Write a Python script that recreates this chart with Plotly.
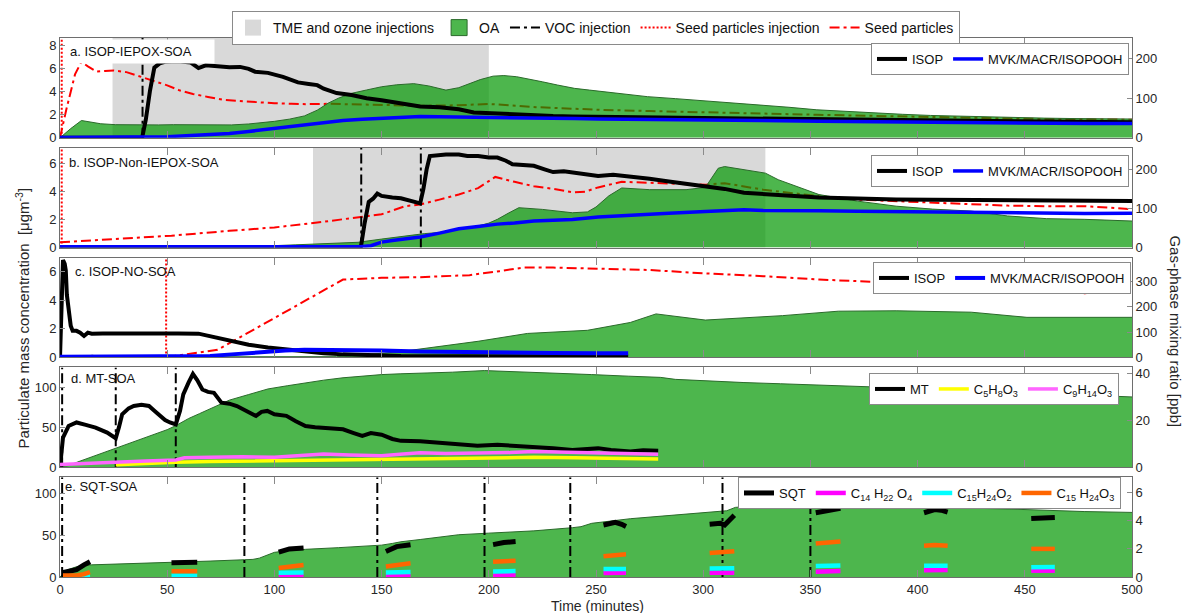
import plotly.graph_objects as go

# ---------------- data (time in minutes) ----------------
x_ticks = [0, 50, 100, 150, 200, 250, 300, 350, 400, 450, 500]

# a. ISOP-IEPOX-SOA
a_tme = [24.5, 200]
a_voc = [38.5]
a_seed_inj = [0.8]
a_seed_t = [0, 3, 7, 10, 13, 17, 21, 25, 31, 38, 44, 50, 56, 62, 69, 76, 83, 90, 100, 108,
            115, 125, 137, 150, 168, 185, 200, 222, 252, 275, 300, 326, 353, 380, 406, 432, 459, 480, 500]
a_seed = [0, 2.5, 5.5, 6.6, 6.2, 5.75, 5.8, 5.85, 5.7, 5.3, 4.95, 4.55, 4.1, 3.8, 3.55, 3.3, 3.2, 3.1, 3.0, 2.95,
          2.92, 2.95, 2.9, 2.86, 2.78, 2.82, 2.94, 2.66, 2.43, 2.32, 2.2, 2.1, 2.0, 1.9, 1.8, 1.72, 1.63, 1.6, 1.57]
a_oa_t = [0, 5, 10, 14, 19, 26, 33, 39, 46, 53, 60, 66, 72, 80, 88, 95, 100, 107, 114, 120,
          125, 130, 136, 143, 150, 157, 165, 172, 180, 186, 191, 196, 202, 207, 213, 219, 225, 232, 240, 247,
          260, 274, 287, 300, 314, 327, 340, 353, 367, 380, 393, 406, 420, 433, 446, 459, 473, 486, 500]
a_oa = [0, 0.8, 1.5, 1.35, 1.22, 1.14, 1.12, 1.1, 1.12, 1.14, 1.12, 1.1, 1.09, 1.12, 1.2, 1.3, 1.43, 1.62, 1.9, 2.4,
        3.0, 3.45, 3.86, 4.15, 4.43, 4.6, 4.7, 4.5, 4.14, 4.35, 4.7, 5.05, 5.35, 5.4, 5.3, 5.1, 4.86, 4.58, 4.29, 4.14,
        3.85, 3.57, 3.4, 3.23, 3.05, 2.86, 2.65, 2.43, 2.28, 2.14, 2.04, 1.94, 1.87, 1.8, 1.75, 1.71, 1.67, 1.65, 1.63]
a_isop_t = [0, 38.3, 40, 42, 44, 46.5, 49, 55, 61, 64.6, 68, 73, 79, 84, 88, 91, 97, 104, 111, 116,
            120, 123, 129, 136, 143, 150, 159, 168, 177, 186, 193, 204, 212, 221, 230, 239, 251, 265, 280, 300,
            320, 340, 353, 370, 390, 406, 420, 440, 459, 480, 500]
a_isop = [0, 0, 45, 120, 177, 188, 192, 193, 190, 176, 183, 181, 178, 179, 174, 167, 164, 154, 140, 136,
          133, 124, 113, 108, 100, 95, 86, 79, 77, 72, 64, 61, 59, 56, 55, 54, 52.5, 52, 51, 50,
          49, 48.5, 47.5, 46.5, 45, 44, 43, 42.5, 42, 40.5, 39]
a_mvk_t = [0, 38, 50, 61, 70, 79, 88, 97, 106, 114, 123, 132, 141, 150, 159, 168, 177, 186, 195, 204,
           221, 240, 251, 275, 301, 327, 354, 380, 407, 433, 460, 480, 500]
a_mvk = [1, 1, 3, 6, 8, 11, 16, 22, 28, 33, 39, 44, 47, 50, 52, 54, 53, 52.5, 53, 52.5,
         50, 48.5, 47.5, 47, 46, 44, 42, 40.5, 39, 37.5, 36, 36, 36]

# b. ISOP-Non-IEPOX-SOA
b_tme = [118, 329]
b_voc = [140.5, 168.3]
b_seed_inj = [0.8]
b_seed_t = [0, 25, 52, 79, 100, 120, 139, 150, 161, 168, 177, 186, 195, 203, 212, 221, 230, 239, 245, 251,
            262, 275, 290, 301, 310, 328, 354, 372, 390, 407, 425, 442, 460, 478, 490, 500]
b_seed = [0.38, 0.6, 0.85, 1.2, 1.44, 1.79, 2.14, 2.38, 2.96, 3.08, 3.43, 3.79, 4.25, 5.05, 4.7, 4.38, 4.2, 3.95, 4.0, 4.3,
          4.7, 4.65, 4.55, 4.49, 4.6, 4.14, 3.67, 3.43, 3.32, 3.2, 3.08, 3.0, 2.96, 2.96, 2.85, 2.73]
b_oa_t = [0, 50, 100, 110, 120, 130, 139, 150, 161, 170, 177, 186, 195, 200, 204, 209, 214, 225, 239, 246,
          250, 256, 262, 275, 292, 301, 304, 307, 310, 320, 329, 335, 345, 354, 372, 390, 407, 425, 442, 460,
          478, 500]
b_oa = [0.08, 0.1, 0.14, 0.2, 0.26, 0.3, 0.38, 0.61, 0.85, 1.0, 1.08, 1.3, 1.55, 1.75, 2.02, 2.45, 2.85, 2.73, 2.49, 2.55,
        2.9, 3.7, 4.26, 4.14, 4.14, 4.3, 5.0, 5.67, 5.79, 5.55, 5.32, 4.85, 4.3, 3.79, 3.32, 2.96, 2.75, 2.61, 2.26, 2.07,
        2.02, 1.9]
b_isop_t = [0, 140.3, 142, 144, 146, 148, 150, 152, 155, 159, 162, 164, 166, 168, 169.5, 171, 172.5, 176, 180, 186,
            190, 195, 200, 204, 208, 211, 215, 221, 226, 230, 235, 239, 245, 251, 258, 266, 275, 284, 292, 301,
            310, 319, 328, 337, 346, 354, 363, 372, 381, 390, 407, 425, 442, 460, 478, 490, 500]
b_isop = [0, 0, 60, 117, 125, 138, 132, 130, 128, 126, 122, 117, 115, 113, 150, 200, 234, 236, 238, 238,
          234, 234, 230, 230, 222, 213, 212, 209, 200, 193, 195, 192, 186, 183, 186, 182, 176, 169, 163, 157,
          150, 140, 137, 133, 130, 128, 127, 125, 124, 123, 122, 121, 120, 119, 119, 119, 119]
b_mvk_t = [0, 140, 145, 150, 155, 160, 168, 177, 186, 195, 204, 212, 221, 230, 239, 251, 266, 284, 301, 310,
           319, 328, 337, 354, 372, 390, 407, 425, 442, 460, 478, 500]
b_mvk = [2, 2, 5, 14, 18, 22, 27, 37, 48, 54, 60, 63, 68, 70, 72, 78, 83, 88, 92, 94,
         97, 95, 94, 94, 93, 92, 90, 88, 87, 86, 87, 88]

# c. ISOP-NO-SOA
c_seed_inj = [49.5]
c_seed_t = [49.5, 60, 73.5, 132, 150, 168, 191, 205, 216, 230, 248, 275, 301, 328, 354, 381, 407, 443, 478, 500]
c_seed = [0.02, 0.25, 0.53, 5.46, 5.58, 5.63, 5.77, 6.05, 6.3, 6.3, 6.25, 6.13, 5.89, 5.7, 5.46, 5.29, 5.22, 4.98, 4.5, 4.85]
c_oa_t = [0, 10, 15, 20, 60, 100, 129, 150, 159, 195, 218, 246, 252, 266, 278, 301, 337, 363, 390, 425, 451, 500]
c_oa = [0.02, 0.05, 0.15, 0.05, 0.04, 0.04, 0.05, 0.29, 0.41, 1.13, 1.68, 1.9, 2.05, 2.45, 3.05, 2.62, 2.93, 3.24, 3.27, 3.17, 2.81, 2.81]
c_isop_t = [0, 0.8, 1.4, 2.2, 2.7, 3.2, 4.1, 5, 5.9, 7.7, 9.4, 11.2, 13, 14.8, 20, 25.5, 35, 43, 55, 64.6,
            68, 72, 80, 88, 97, 106, 115, 123, 132, 141, 150, 159, 177, 200, 230, 265]
c_isop = [0, 200, 385, 370, 344, 248, 166, 125, 105, 105, 98, 85, 98, 94, 95, 95.5, 95, 95.5, 95, 94,
          88, 78, 63, 50, 39, 30, 22, 16, 12, 9.5, 7, 5.5, 5, 4.5, 4, 4]
c_mvk_t = [0, 20, 40, 60, 70, 80, 88, 97, 105, 114, 123, 132, 150, 168, 186, 204, 230, 251, 265]
c_mvk = [3, 4, 3, 3, 6, 12, 18, 23, 27, 30, 30, 30, 27, 23, 20.5, 19, 17, 16, 16]

# d. MT-SOA
d_voc = [1, 26, 54]
d_oa_t = [0, 4, 8, 15, 20, 26, 35, 43, 50, 54, 60, 65, 72, 79, 88, 97, 106, 115, 123, 132,
          141, 150, 159, 168, 183, 198, 210, 221, 235, 248, 265, 280, 287, 300, 319, 336, 354, 372, 390, 407,
          425, 442, 460, 480, 500]
d_oa = [0, 2, 6.3, 13, 18, 24, 32, 40, 47, 52, 61, 67, 76, 84, 91, 98, 102, 106, 109, 112,
        114, 116, 117, 117.5, 119, 121, 120, 119, 117.5, 116, 114, 112.5, 110, 108, 106, 104.5, 103, 101.5, 100, 98,
        96, 94, 92, 90, 88]
d_mt_t = [0, 1.4, 4, 7.7, 12, 16.6, 22, 26, 27.5, 29, 32, 34.4, 38, 41.5, 44, 46.8, 49, 51.3, 54, 56,
          57.5, 60, 62, 64, 66.4, 69, 71.8, 75.3, 79, 82.5, 87, 91.4, 94, 96.7, 100, 105.6, 110, 114.5, 119, 123.4,
          128, 132, 137, 141, 145, 150, 155, 159, 168, 177, 186, 194.7, 204, 212.5, 221, 230, 239, 245, 251, 257,
          266, 272, 279]
d_mt = [0, 12.6, 17.5, 19, 18, 16.8, 14.7, 12.3, 17, 22.5, 25, 26, 26.5, 26, 24, 21.8, 20, 19, 18.2, 24,
        30.9, 36, 39.6, 37, 33, 32, 31.6, 27.4, 27, 26, 24, 21.8, 23.5, 23.9, 22.5, 21.8, 19.5, 17.5, 17, 16.8,
        16.5, 16.1, 14.5, 13.3, 14.5, 13.8, 12, 11.2, 11, 10.5, 10, 9.1, 9.5, 9.1, 8.8, 8.1, 7.3, 7.8, 8.1, 7.3,
        6.7, 7.2, 7.0]
d_c5_t = [26, 40, 54, 70, 90, 110, 130, 150, 170, 186, 205, 221, 240, 251, 265, 279]
d_c5 = [1.0, 1.6, 2.1, 2.4, 2.6, 2.9, 3.2, 3.4, 3.5, 3.9, 3.8, 4.2, 4.0, 3.9, 3.7, 3.5]
d_c9_t = [0, 10, 26, 40, 54, 58, 70, 85, 100, 115, 123, 135, 150, 160, 168, 180, 195, 210, 221, 235, 251, 265, 279]
d_c9 = [1.1, 1.4, 2.1, 2.6, 3.1, 4.0, 4.2, 4.4, 4.2, 5.0, 5.6, 5.2, 4.9, 5.6, 6.1, 5.8, 5.9, 6.2, 6.7, 6.4, 6.3, 5.8, 5.5]

# e. SQT-SOA (gaps between sampling windows are None)
e_voc = [1, 86, 148, 198, 238, 309, 350]
e_oa_t = [0, 3.2, 7.7, 11.2, 14.8, 30, 50, 70, 86, 90, 93, 97, 100, 107, 114.5, 130, 147, 150, 155, 159,
          168, 177, 186, 200, 221, 239, 243, 248, 266, 285, 301, 311, 315, 325, 337, 351, 372, 390, 407, 425,
          443, 460, 478, 500]
e_oa = [0, 8.4, 12.2, 14, 14.5, 15.5, 17.2, 19, 20.6, 21, 22.5, 26, 29.4, 31.5, 33, 35, 37.5, 38, 40, 42,
        44.7, 47.5, 50.4, 52.3, 55, 58.8, 60, 64, 69.5, 73.5, 77, 79, 83, 85, 86, 86.6, 86, 84.5, 83, 82,
        81, 79.5, 78, 77]
e_sqt_t = [1, 4, 7.7, 11.2, 14, None, 52, 58, 64, None, 102, 107, 113.6, None, 152, 157, 163.5, None,
           202, 207, 212.5, None, 253.5, 256, 259, 262, 264, None, 303, 306, 308, 310, 312, 314.5, None,
           352.5, 355, 358, 361, 364, None, 403, 406, 408, 411, 414, None, 453, 458.5, 464]
e_sqt = [0.3, 0.4, 0.52, 0.86, 1.09, None, 1.02, 1.04, 1.05, None, 1.77, 2.0, 2.07, None, 1.82, 2.16, 2.3, None,
         2.3, 2.45, 2.52, None, 3.7, 3.8, 3.89, 3.75, 3.6, None, 3.75, 3.8, 3.82, 3.7, 4.05, 4.39, None,
         4.57, 4.65, 4.73, 4.8, 4.89, None, 4.57, 4.75, 4.8, 4.75, 4.61, None, 4.16, 4.23, 4.23]
e_c14_t = [102, 113.6, None, 152, 163.5, None, 202, 212.5, None, 253.5, 264, None, 303, 314.5, None,
           352.5, 364, None, 403, 414, None, 453, 464]
e_c14 = [0.07, 0.07, None, 0.1, 0.11, None, 0.11, 0.12, None, 0.28, 0.3, None, 0.3, 0.3, None,
         0.38, 0.43, None, 0.48, 0.5, None, 0.45, 0.45]
e_c15o2_t = [10, 14, None, 52, 64, None, 102, 113.6, None, 152, 163.5, None, 202, 212.5, None, 253.5, 264, None,
             303, 314.5, None, 352.5, 364, None, 403, 414, None, 453, 464]
e_c15o2 = [0.08, 0.12, None, 0.1, 0.1, None, 0.3, 0.32, None, 0.32, 0.36, None, 0.4, 0.42, None, 0.57, 0.57, None,
           0.6, 0.62, None, 0.78, 0.82, None, 0.8, 0.8, None, 0.7, 0.72]
e_c15o3_t = [1.4, 7.7, 11, 14, None, 52, 64, None, 102, 108, 113.6, None, 152, 158, 163.5, None, 202, 207, 212.5, None,
             253.5, 259, 264, None, 303, 309, 314.5, None, 352.5, 358, 364, None, 403, 408, 414, None, 453, 458, 464]
e_c15o3 = [0.11, 0.11, 0.2, 0.34, None, 0.41, 0.41, None, 0.64, 0.75, 0.86, None, 0.75, 0.88, 0.98, None, 1.09, 1.12, 1.16, None,
           1.48, 1.58, 1.61, None, 1.7, 1.75, 1.84, None, 2.39, 2.45, 2.52, None, 2.23, 2.28, 2.23, None, 2.0, 2.03, 2.0]

panel_labels = ['a. ISOP-IEPOX-SOA', 'b. ISOP-Non-IEPOX-SOA', 'c. ISOP-NO-SOA', 'd. MT-SOA', 'e. SQT-SOA']

# ---------------- layout geometry / styles ----------------
W, H = 1185, 613
ML, MR, MT, MB = 60, 53, 37, 36
PW = W - ML - MR
PH = H - MT - MB
TOPS = [37, 147, 257, 367, 477]
PANEL_H = 100
LEFT_MAX = [8.66, 7.13, 7.0, 125, 119]
RIGHT_MAX = [252, 255, 395, 42.4, 7.1]
LEFT_DT = [2, 2, 2, 50, 50]
RIGHT_DT = [100, 100, 100, 20, 2]

FONT = 'Arial, "Liberation Sans", sans-serif'
TXT = '#262626'
AXC = '#6e6e6e'
GREEN = 'rgba(1,151,1,0.7)'
GREEN_EDGE = '#2b6a2b'
GREY = '#d9d9d9'
DASHDOT = '10px,4px,3px,4px'


def ypaper(py):
    return (H - MB - py) / PH


def xpaper(px):
    return (px - ML) / PW


def axn(i):
    s = '' if i == 0 else str(i + 1)
    return 'x' + s, 'y' + s, 'y' + str(i + 6)


def vlines(ts, top):
    xs, ys = [], []
    for t in ts:
        xs += [t, t, None]
        ys += [0, top, None]
    return xs, ys


fig = go.Figure()

# legend proxies for the shaded items of the top legend
fig.add_trace(go.Scatter(x=[None], y=[None], mode='markers', name='TME and ozone injections',
                         marker=dict(symbol='square', size=16, color=GREY), legend='legend', legendrank=1))
fig.add_trace(go.Scatter(x=[None], y=[None], mode='markers', name='OA',
                         marker=dict(symbol='square', size=16, color='rgb(77,182,77)',
                                     line=dict(color=GREEN_EDGE, width=1)), legend='legend', legendrank=2))


def base_panel(i, tme, seed_t, seed, oa_t, oa, voc, seed_inj):
    xa, ya, _ = axn(i)
    top = LEFT_MAX[i]
    for k in range(0, len(tme), 2):
        t0, t1 = tme[k], tme[k + 1]
        fig.add_trace(go.Scatter(x=[t0, t1, t1, t0, t0], y=[0, 0, top, top, 0], mode='lines',
                                 fill='toself', fillcolor=GREY, line=dict(width=0),
                                 showlegend=False, hoverinfo='skip', xaxis=xa, yaxis=ya))
    if seed_t:
        fig.add_trace(go.Scatter(x=seed_t, y=seed, mode='lines', name='Seed particles',
                                 line=dict(color='#ff0000', width=2, dash=DASHDOT),
                                 showlegend=(i == 0), legend='legend', legendrank=5, xaxis=xa, yaxis=ya))
    fig.add_trace(go.Scatter(x=oa_t, y=oa, mode='lines', fill='tozeroy', fillcolor=GREEN,
                             line=dict(color=GREEN_EDGE, width=1), showlegend=False, xaxis=xa, yaxis=ya))
    if voc:
        vx, vy = vlines(voc, top)
        fig.add_trace(go.Scatter(x=vx, y=vy, mode='lines', name='VOC injection',
                                 line=dict(color='black', width=2, dash=DASHDOT),
                                 showlegend=(i == 0), legend='legend', legendrank=3, xaxis=xa, yaxis=ya))
    if seed_inj:
        sx, sy = vlines(seed_inj, top)
        fig.add_trace(go.Scatter(x=sx, y=sy, mode='lines', name='Seed particles injection',
                                 line=dict(color='#ff0000', width=2, dash='2px,2px'),
                                 showlegend=(i == 0), legend='legend', legendrank=4, xaxis=xa, yaxis=ya))


def gas(i, t, v, name, color, width=4):
    xa, _, yr = axn(i)
    fig.add_trace(go.Scatter(x=t, y=v, mode='lines', name=name, line=dict(color=color, width=width),
                             connectgaps=False, legend='legend' + str(i + 2), xaxis=xa, yaxis=yr))


base_panel(0, a_tme, a_seed_t, a_seed, a_oa_t, a_oa, a_voc, a_seed_inj)
gas(0, a_isop_t, a_isop, 'ISOP', 'black')
gas(0, a_mvk_t, a_mvk, 'MVK/MACR/ISOPOOH', '#0000ff', 3.5)

base_panel(1, b_tme, b_seed_t, b_seed, b_oa_t, b_oa, b_voc, b_seed_inj)
gas(1, b_isop_t, b_isop, 'ISOP', 'black')
gas(1, b_mvk_t, b_mvk, 'MVK/MACR/ISOPOOH', '#0000ff', 3.5)

base_panel(2, [], c_seed_t, c_seed, c_oa_t, c_oa, [], c_seed_inj)
gas(2, c_isop_t, c_isop, 'ISOP', 'black')
gas(2, c_mvk_t, c_mvk, 'MVK/MACR/ISOPOOH', '#0000ff', 4)

base_panel(3, [], None, None, d_oa_t, d_oa, d_voc, [])
gas(3, d_mt_t, d_mt, 'MT', 'black')
gas(3, d_c5_t, d_c5, 'C<sub>5</sub>H<sub>8</sub>O<sub>3</sub>', '#ffff00', 3.5)
gas(3, d_c9_t, d_c9, 'C<sub>9</sub>H<sub>14</sub>O<sub>3</sub>', '#ff66ff', 3.5)

base_panel(4, [], None, None, e_oa_t, e_oa, e_voc, [])
gas(4, e_sqt_t, e_sqt, 'SQT', 'black', 5)
gas(4, e_c14_t, e_c14, 'C<sub>14</sub> H<sub>22</sub> O<sub>4</sub>', '#ff00ff', 4.5)
gas(4, e_c15o2_t, e_c15o2, 'C<sub>15</sub>H<sub>24</sub>O<sub>2</sub>', '#00ffff', 4.5)
gas(4, e_c15o3_t, e_c15o3, 'C<sub>15</sub> H<sub>24</sub>O<sub>3</sub>', '#ff6600', 4.5)

# ---------------- axes ----------------
layout = {}
for i in range(5):
    s = '' if i == 0 else str(i + 1)
    dom = [ypaper(TOPS[i] + PANEL_H), ypaper(TOPS[i])]
    layout['xaxis' + s] = dict(domain=[0, 1], anchor='y' + s, range=[0, 500], tickvals=x_ticks,
                               showticklabels=(i == 4), ticks='inside', ticklen=7, tickcolor='#8a8a8a',
                               showline=True, linecolor=AXC, linewidth=1, mirror='ticks',
                               showgrid=False, zeroline=False,
                               tickfont=dict(size=13, color=TXT))
    layout['yaxis' + s] = dict(domain=dom, anchor='x' + s, range=[0, LEFT_MAX[i]], dtick=LEFT_DT[i],
                               ticks='inside', ticklen=5, tickcolor='#8a8a8a', showline=True,
                               linecolor=AXC, linewidth=1, showgrid=False, zeroline=False,
                               tickfont=dict(size=13, color=TXT))
    layout['yaxis' + str(i + 6)] = dict(overlaying='y' + s, side='right', anchor='x' + s,
                                        range=[0, RIGHT_MAX[i]], dtick=RIGHT_DT[i], ticks='inside',
                                        ticklen=5, tickcolor='#8a8a8a', showline=True, linecolor=AXC,
                                        linewidth=1, showgrid=False, zeroline=False,
                                        tickfont=dict(size=13, color=TXT))


def panel_legend(right_px, top_px):
    return dict(x=xpaper(right_px), xanchor='right', y=ypaper(top_px), yanchor='top',
                orientation='h', bgcolor='white', bordercolor='#8a8a8a', borderwidth=1,
                font=dict(size=13, family=FONT, color='#111'), itemwidth=30)


layout['legend'] = dict(x=xpaper(596), xanchor='center', y=ypaper(11), yanchor='top', orientation='h',
                        bgcolor='white', bordercolor='#8a8a8a', borderwidth=1,
                        font=dict(size=14, family=FONT, color='#111'), itemwidth=30)
layout['legend2'] = panel_legend(1129, TOPS[0] + 6)
layout['legend3'] = panel_legend(1129, TOPS[1] + 8)
layout['legend4'] = panel_legend(1131, TOPS[2] + 5)
layout['legend5'] = panel_legend(1119, TOPS[3] + 6)
layout['legend6'] = panel_legend(1121, TOPS[4])

# ---------------- annotations ----------------
label_x = [2.3, 3.2, 5.9, 4, 1.4]
label_dy = [13, 15, 14, 11, 9]
ann = []
for i, txt in enumerate(panel_labels):
    xa, ya, _ = axn(i)
    a = dict(text=txt, x=label_x[i], xref=xa, y=1, yref=ya + ' domain', xanchor='left', yanchor='middle',
             yshift=-label_dy[i], showarrow=False, font=dict(size=13, family=FONT, color='#111'))
    if i == 0:
        a.update(bgcolor='white', width=140, align='left', borderpad=4)
    ann.append(a)

ann.append(dict(text='Time (minutes)', x=xpaper(597), xref='paper', y=ypaper(606), yref='paper',
                xanchor='center', yanchor='middle', showarrow=False,
                font=dict(size=14, family=FONT, color=TXT)))
ann.append(dict(text='Particulate mass concentration  [\u03bcgm<sup>-3</sup>]', x=xpaper(22), xref='paper',
                y=ypaper(318), yref='paper', textangle=-90, xanchor='center', yanchor='middle',
                showarrow=False, font=dict(size=15, family=FONT, color=TXT)))
ann.append(dict(text='Gas-phase mixing ratio [ppb]', x=xpaper(1176), xref='paper',
                y=ypaper(331), yref='paper', textangle=90, xanchor='center', yanchor='middle',
                showarrow=False, font=dict(size=15, family=FONT, color=TXT)))

fig.update_layout(**layout)
fig.update_layout(width=W, height=H, margin=dict(l=ML, r=MR, t=MT, b=MB, pad=0),
                  paper_bgcolor='white', plot_bgcolor='white', annotations=ann,
                  font=dict(family=FONT, color=TXT), hovermode=False)

fig.write_html("out.html", config={'displayModeBar': False},
               post_script="document.body.style.margin='0';")
